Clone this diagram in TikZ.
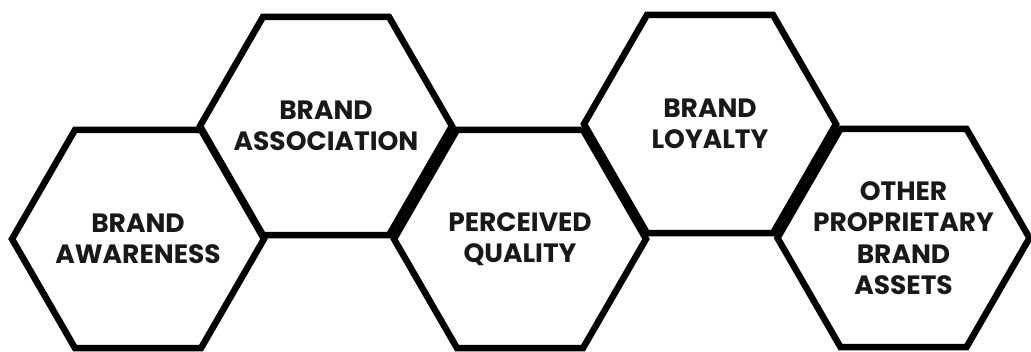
\documentclass[tikz,border=0pt]{standalone}
\usepackage{fontspec}
\setmainfont{Poppins}
\begin{document}
\begin{tikzpicture}[x=1pt,y=-1pt,
  label/.style={align=center,font=\fontsize{26.5}{31.5}\selectfont\bfseries,text=black!90,inner sep=0pt},
  hexline/.style={line width=6.5pt,line join=miter,black}]
\useasboundingbox[fill=white] (0,0) rectangle (1031,351);
\def\R{126}
\node[label] (h1) at (138,239) {BRAND\\AWARENESS};
\node[label] (h2) at (326,126) {BRAND\\ASSOCIATION};
\node[label] (h3) at (520,239) {PERCEIVED\\QUALITY};
\node[label] (h4) at (710,124) {BRAND\\LOYALTY};
\node[label] (h5) at (903.5,238) {OTHER\\PROPRIETARY\\BRAND\\ASSETS};
\foreach \h in {h1,h2,h3,h4,h5}{
  \draw[hexline] (\h.center) ++(\R,0) -- ++(-0.5*\R,0.866*\R) -- ++(-\R,0) -- ++(-0.5*\R,-0.866*\R)
     -- ++(0.5*\R,-0.866*\R) -- ++(\R,0) -- cycle;
}
\end{tikzpicture}
\end{document}
